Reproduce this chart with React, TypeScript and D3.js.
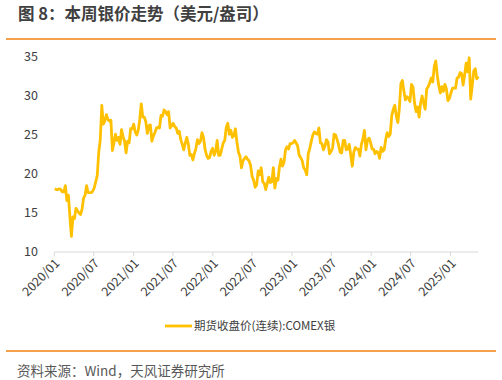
import React from "react";
import * as d3 from "d3";

const title = "图 8：本周银价走势（美元/盎司）";
const legendLabel = "期货收盘价(连续):COMEX银";
const sourceText = "资料来源：Wind，天风证券研究所";

const startDate = "2020-01-03"; // first weekly observation (Friday)
const endDate = "2025-05-09";
const yTicks = [10, 15, 20, 25, 30, 35];

const values2020 = [
  18.1, 18.0, 18.0, 18.1, 18.0,
  17.7, 17.7, 18.5, 16.6,
  17.3, 14.5, 12.0, 14.5,
  14.3, 15.6, 15.3, 15.0,
  14.8, 15.5, 16.9, 17.3, 18.5,
  17.6, 17.6, 17.6, 17.8,
  18.2, 19.0, 19.8, 22.8, 24.4,
  28.8, 26.4, 26.8, 27.6,
  27.0, 26.8, 26.9, 23.0,
  24.0, 25.1, 24.3, 24.7, 23.8,
  25.7, 24.8, 24.2, 22.7,
  24.2, 24.0, 25.8, 25.8,
];
const values2021 = [
  26.4, 25.4, 25.0, 25.6, 27.0,
  29.0, 27.3, 27.3, 26.7,
  25.2, 26.2, 26.3, 24.2,
  24.9, 25.3, 25.9, 26.0, 25.9,
  27.5, 27.4, 28.2, 28.0,
  27.6, 28.0, 25.9, 26.2,
  26.5, 26.1, 25.9, 25.2, 25.5,
  24.4, 23.8, 23.1, 24.0,
  24.7, 23.8, 22.4, 22.5,
  21.8, 22.6, 23.3, 24.4, 23.9,
  24.2, 25.3, 24.7, 23.2,
  22.4, 22.0, 22.1, 22.9, 23.3,
];
const values2022 = [
  22.4, 22.9, 24.3, 22.4,
  22.4, 23.2, 24.0, 24.3,
  26.0, 26.5, 25.1, 25.6,
  24.7, 24.9, 25.8, 24.1, 22.8,
  22.3, 20.8, 21.7, 22.0,
  22.2, 21.9, 21.7, 21.1,
  19.7, 19.2, 18.3, 18.6, 20.4,
  19.9, 20.8, 19.0, 18.8,
  18.0, 18.8, 19.6, 18.9, 19.0,
  20.8, 18.2, 19.4, 19.2,
  20.9, 21.9, 21.0, 21.5,
  23.1, 23.5, 23.2, 23.9, 23.9,
];
const values2023 = [
  24.0, 24.3, 24.0, 23.6,
  22.4, 22.1, 21.7, 20.8,
  20.5, 19.9, 22.6, 23.3, 24.2,
  25.0, 25.4, 25.2, 25.1,
  25.9, 24.0, 23.9, 23.1,
  23.6, 24.4, 24.1, 22.6, 22.9,
  23.3, 25.1, 25.0, 24.4,
  23.7, 22.8, 22.7, 24.3,
  24.3, 23.1, 23.2, 23.8, 22.4,
  21.0, 22.8, 23.4, 23.2,
  23.2, 22.3, 23.8, 24.5,
  25.6, 23.1, 24.3, 24.6, 24.1,
];
const values2024 = [
  23.2, 23.2, 22.6, 22.9,
  22.8, 22.0, 23.4, 22.9,
  23.1, 24.4, 25.3, 24.8, 25.1,
  27.5, 28.3, 28.8, 27.4,
  26.6, 28.4, 31.6, 32.0, 30.6,
  29.5, 29.9, 29.7, 29.3,
  31.5, 31.1, 29.1, 28.0,
  28.6, 27.3, 29.1, 30.0, 29.1,
  28.3, 30.9, 31.2, 31.7,
  32.3, 31.8, 33.8, 34.5,
  32.6, 31.3, 30.4, 31.2, 30.6,
  31.5, 30.9, 29.4, 29.7,
];
const values2025 = [
  30.4, 31.0, 31.0, 31.0, 32.3,
  32.4, 33.0, 32.9, 31.4,
  32.7, 34.2, 33.1, 34.9,
  29.6, 31.3, 33.2, 33.5,
  32.2, 32.5,
];

const values = [
  ...values2020, ...values2021, ...values2022,
  ...values2023, ...values2024, ...values2025,
];

const W = 502;
const H = 380;
const ORANGE = "#F5A04B";
const GOLD = "#FFC000";
const TEXT = "#404040";
const FONT = "'Noto Sans CJK SC', 'Noto Sans', sans-serif";

export default function App() {
  const parse = d3.timeParse("%Y-%m-%d");
  const start = parse(startDate)!;
  const data = values.map((v, i) => ({ date: d3.timeDay.offset(start, 7 * i), value: v }));

  const x = d3
    .scaleTime()
    .domain([new Date(2020, 0, 1), parse(endDate)!])
    .range([54.3, 478.3]);
  const y = d3.scaleLinear().domain([10, 35]).range([252, 57]);

  const line = d3
    .line<{ date: Date; value: number }>()
    .x((d) => x(d.date))
    .y((d) => y(d.value))
    .curve(d3.curveLinear);

  const xTicks = d3.timeMonth.range(new Date(2020, 0, 1), new Date(2025, 1, 1), 6);
  const fmt = d3.timeFormat("%Y/%m");

  return (
    <svg width={W} height={H} style={{ position: "absolute", left: 0, top: 0, background: "#fff" }}>
      <rect x={0} y={0} width={W} height={H} fill="#fff" />
      <text x={18} y={20} fontFamily={FONT} fontSize={16.5} fontWeight={700} fill={TEXT}>
        {title}
      </text>
      <line x1={6} x2={496} y1={39} y2={39} stroke={ORANGE} strokeWidth={2} />

      {yTicks.map((t) => (
        <text
          key={t}
          x={38}
          y={y(t)}
          dy="0.35em"
          textAnchor="end"
          fontFamily={FONT}
          fontSize={12.5}
          fill={TEXT}
        >
          {t}
        </text>
      ))}

      <line x1={54.3} x2={478.3} y1={252} y2={252} stroke="#d9d9d9" strokeWidth={1} />
      {xTicks.map((t) => (
        <g key={+t}>
          <line x1={x(t)} x2={x(t)} y1={252} y2={256} stroke="#d9d9d9" strokeWidth={1} />
          <text
            transform={`translate(${x(t) + 3},${261}) rotate(-45)`}
            textAnchor="end"
            dy="0.35em"
            fontFamily={FONT}
            fontSize={12.5}
            fill={TEXT}
          >
            {fmt(t)}
          </text>
        </g>
      ))}

      <path d={line(data) ?? ""} fill="none" stroke={GOLD} strokeWidth={2.8} strokeLinejoin="round" />

      <line x1={165} x2={192} y1={326} y2={326} stroke={GOLD} strokeWidth={2.8} />
      <text x={194} y={326} dy="0.35em" fontFamily={FONT} fontSize={11.5} fill={TEXT}>
        {legendLabel}
      </text>

      <line x1={6} x2={496} y1={351} y2={351} stroke={ORANGE} strokeWidth={2} />
      <text x={17} y={371} dy="0.35em" fontFamily={FONT} fontSize={13.5} fill="#595959">
        {sourceText}
      </text>
    </svg>
  );
}
